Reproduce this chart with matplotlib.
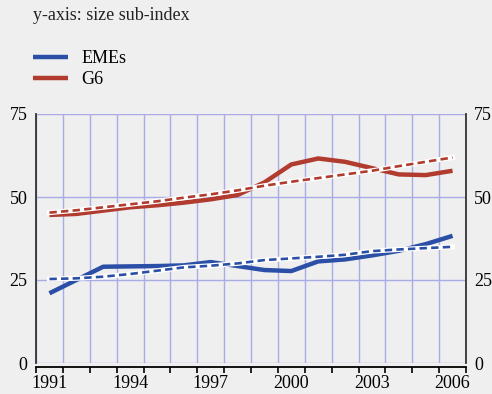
import matplotlib
matplotlib.use("Agg")
import matplotlib.pyplot as plt
import numpy as np

plt.rcParams['font.family'] = ['Liberation Serif', 'DejaVu Serif']

years = list(range(1991, 2007))
emes = [21.0, 25.0, 29.0, 29.1, 29.2, 29.4, 30.4, 29.2, 28.0, 27.7,
        30.6, 31.2, 32.4, 33.8, 35.8, 38.3]
emes_trend = [25.3, 25.5, 26.0, 26.8, 27.8, 28.8, 29.3, 30.0, 31.0, 31.5,
              32.0, 32.6, 33.7, 34.2, 34.6, 35.0]
g6 = [44.6, 44.9, 45.9, 46.9, 47.5, 48.3, 49.3, 50.6, 54.4, 59.8,
      61.6, 60.6, 58.7, 56.8, 56.6, 57.9]
g6_trend = [45.3, 46.0, 46.9, 47.8, 48.7, 49.8, 50.8, 52.0, 53.4, 54.6,
            55.7, 56.8, 57.9, 59.3, 60.6, 61.9]
year_labels = [1991, 1994, 1997, 2000, 2003, 2006]
y_ticks = [0, 25, 50, 75]

BLUE = '#2b4fa6'
RED = '#b03b2e'
BG = '#efefef'
GRID = '#a7ace6'
FS = 13

fig = plt.figure(figsize=(4.92, 3.94), dpi=100, facecolor=BG)
ax = fig.add_axes([36/492, 1-363/394, 430/492, 249/394], facecolor=BG)

# year boundaries carry the gridlines and ticks; labels sit mid-year
bounds = np.arange(years[0] - 0.5, years[-1] + 1.0, 1.0)
ax.set_xlim(bounds[0], bounds[-1])
ax.set_ylim(0, 75)
ax.set_xticks(bounds)
ax.set_xticklabels([])
ax.set_xticks(year_labels, minor=True)
ax.set_xticklabels([str(y) for y in year_labels], minor=True)
ax.tick_params(axis='x', which='major', direction='out', length=4, width=1.2,
               color='black')
ax.tick_params(axis='x', which='minor', length=0, pad=6, labelsize=FS)
ax.set_yticks(y_ticks)
ax.tick_params(axis='y', length=0, labelsize=FS, pad=6,
               labelleft=True, labelright=True)

ax.grid(True, which='major', color=GRID, linewidth=1.0)
ax.set_axisbelow(True)

for s in ['left', 'right']:
    ax.spines[s].set_color('#333333')
    ax.spines[s].set_linewidth(1.3)
ax.spines['top'].set_visible(False)
ax.spines['bottom'].set_position(('outward', 3))
ax.spines['bottom'].set_color('black')
ax.spines['bottom'].set_linewidth(1.3)

# actual series
h1, = ax.plot(years, emes, color=BLUE, lw=3.2, solid_capstyle='butt', zorder=3)
h2, = ax.plot(years, g6, color=RED, lw=3.2, solid_capstyle='butt', zorder=3)

# trend series: dashed with a white casing
for vals, col in [(emes_trend, BLUE), (g6_trend, RED)]:
    ax.plot(years, vals, color='white', lw=3.6, zorder=4)
    ax.plot(years, vals, color=col, lw=1.9, linestyle=(0, (2.8, 1.6)), zorder=5)

fig.text(33/492, 1-15/394, 'y-axis: size sub-index', fontsize=FS,
         va='center', ha='left', color='#222222')

fig.legend([h1, h2], ['EMEs', 'G6'], loc='upper left',
           bbox_to_anchor=(33/492, 1-50/394), frameon=False, fontsize=FS,
           handlelength=1.95, handletextpad=0.75, labelspacing=0.22,
           borderaxespad=0, borderpad=0)

fig.savefig('out.png', dpi=100, facecolor=BG)
